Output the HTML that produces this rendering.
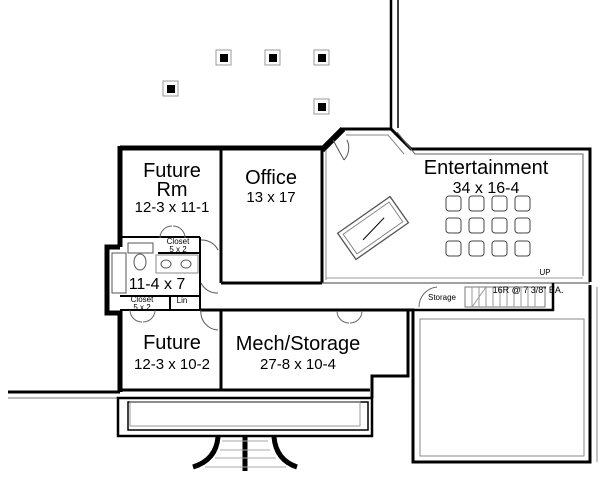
<!DOCTYPE html>
<html><head><style>body{margin:0;background:#fff}svg{display:block}text{font-family:"Liberation Sans",sans-serif;fill:#000;text-anchor:middle}</style></head>
<body>
<svg width="600" height="504" viewBox="0 0 600 504" xmlns="http://www.w3.org/2000/svg">
<g fill="#fff" stroke="#999" stroke-width="1">
<rect x="216" y="50" width="15" height="15"/><rect x="265" y="50" width="15" height="15"/><rect x="314" y="50" width="15" height="15"/><rect x="163" y="81" width="15" height="15"/><rect x="314" y="99" width="15" height="15"/>
</g>
<g fill="#000"><rect x="220" y="54" width="8" height="8"/><rect x="269" y="54" width="8" height="8"/><rect x="318" y="54" width="8" height="8"/><rect x="167" y="85" width="8" height="8"/><rect x="318" y="103" width="8" height="8"/></g>
<g stroke="#000" fill="none">
<line x1="391" y1="0" x2="391" y2="130" stroke-width="2.5"/>
<line x1="398" y1="0" x2="398" y2="128" stroke-width="1.5"/>
<polyline points="120,148 322,148" stroke-width="5"/>
<polyline points="322,150 343,129 391,129 411,149 590,149 590,282" stroke-width="3"/>
<polyline points="322,150 343,129" stroke-width="6"/>
<polyline points="397,132 415,154 583,154 583,276" stroke-width="1" stroke="#666"/>
<polyline points="346,135 388,135 404,154" stroke-width="1" stroke="#888"/>
<line x1="120" y1="146" x2="120" y2="247" stroke-width="5"/>
<polyline points="120,247 107,247 107,313 120,313" stroke-width="5"/>
<line x1="120" y1="311" x2="120" y2="392" stroke-width="5"/>
<line x1="8" y1="392" x2="120" y2="392" stroke-width="3"/>
<line x1="8" y1="398" x2="118" y2="398" stroke-width="1" stroke="#777"/>
<line x1="120" y1="390" x2="370" y2="390" stroke-width="3"/>
<line x1="221" y1="148" x2="221" y2="283" stroke-width="3"/>
<line x1="322" y1="148" x2="322" y2="283" stroke-width="3"/>
<line x1="326" y1="150" x2="326" y2="280" stroke-width="1" stroke="#888"/>
<line x1="221" y1="283" x2="322" y2="283" stroke-width="3"/>
<line x1="322" y1="283" x2="590" y2="283" stroke-width="1.2" stroke="#666"/>
<line x1="326" y1="278" x2="583" y2="278" stroke-width="1" stroke="#999"/>
<polyline points="200,310 408,310 408,376 372,376 372,398" stroke-width="3"/>
<line x1="221" y1="310" x2="221" y2="390" stroke-width="3"/>
<line x1="120" y1="237" x2="200" y2="237" stroke-width="2"/>
<line x1="158" y1="253" x2="200" y2="253" stroke-width="2"/>
<line x1="200" y1="237" x2="200" y2="310" stroke-width="2"/>
<line x1="120" y1="296" x2="200" y2="296" stroke-width="2"/>
<line x1="170" y1="296" x2="170" y2="310" stroke-width="2"/>
<line x1="120" y1="310" x2="200" y2="310" stroke-width="2"/>
<rect x="112" y="253" width="14" height="40" stroke-width="1" stroke="#555"/>
<rect x="128" y="243" width="25" height="10" stroke-width="1" stroke="#555"/>
<ellipse cx="140" cy="262" rx="6" ry="8" stroke-width="1" stroke="#555"/>
<rect x="156" y="255" width="42" height="18" stroke-width="1" stroke="#888"/>
<ellipse cx="166" cy="264" rx="5" ry="4" stroke-width="1" stroke="#555"/>
<ellipse cx="186" cy="264" rx="5" ry="4" stroke-width="1" stroke="#555"/>
<path d="M201,240 A18,18 0 0 1 218,250 M201,283 A18,18 0 0 0 218,293 M201,310 A18,18 0 0 0 218,330" stroke-width="1" stroke="#555"/>
<path d="M160,238 A12,12 0 0 1 172,226 M185,238 A12,12 0 0 0 173,226 M130,310 A12,12 0 0 0 142,322 M155,310 A12,12 0 0 1 143,322" stroke-width="1" stroke="#666"/>
<path d="M337,311 A12,12 0 0 0 349,323 M362,311 A12,12 0 0 1 350,323" stroke-width="1" stroke="#666"/>
<path d="M333,140 L344,160 M344,160 A18,18 0 0 0 347,140" stroke-width="1" stroke="#555"/>
<rect x="118" y="398" width="254" height="38" stroke-width="2.5"/>
<rect x="128" y="402" width="240" height="28" stroke-width="1.5"/>
<rect x="130" y="402" width="230" height="24" stroke-width="1" stroke="#999"/>
<path d="M218,437 Q216,460 193,467 M274,437 Q276,460 297,467" stroke-width="5"/>
<line x1="245" y1="437" x2="245" y2="471" stroke-width="5"/>
<g stroke="#aaa" stroke-width="1"><line x1="222" y1="441" x2="268" y2="441"/><line x1="220" y1="450" x2="270" y2="450"/><line x1="215" y1="458" x2="276" y2="458"/><line x1="205" y1="467" x2="286" y2="467"/></g>
<polyline points="408,310 413,310 413,462 590,462 590,285" stroke-width="3"/>
<polyline points="553,283 553,310 413,310" stroke-width="2.5"/>
<rect x="420" y="319" width="164" height="137" stroke-width="1" stroke="#888"/>
<line x1="597" y1="287" x2="597" y2="462" stroke-width="1" stroke="#888"/>
<rect x="465" y="287" width="80" height="20" stroke-width="1" stroke="#777"/>
<g stroke="#999" stroke-width="1"><line x1="472" y1="287" x2="472" y2="307"/><line x1="479" y1="287" x2="479" y2="307"/><line x1="486" y1="287" x2="486" y2="307"/><line x1="493" y1="287" x2="493" y2="307"/><line x1="500" y1="287" x2="500" y2="307"/><line x1="507" y1="287" x2="507" y2="307"/><line x1="514" y1="287" x2="514" y2="307"/><line x1="521" y1="287" x2="521" y2="307"/><line x1="528" y1="287" x2="528" y2="307"/><line x1="535" y1="287" x2="535" y2="307"/><line x1="472" y1="307" x2="486" y2="287"/></g>
<path d="M419,307 A20,20 0 0 1 437,287" stroke-width="1" stroke="#666"/>
<g transform="translate(373,228) rotate(-35)"><rect x="-32" y="-16" width="64" height="32" stroke-width="1.3" stroke="#555"/><rect x="-28" y="-12" width="56" height="24" stroke-width="1" stroke="#888"/><line x1="-15" y1="4" x2="15" y2="-2" stroke-width="1"/></g>
</g>
<g fill="#fff" stroke="#444" stroke-width="1">
<rect x="446" y="196" width="15" height="15" rx="3"/><rect x="469" y="196" width="15" height="15" rx="3"/><rect x="492" y="196" width="15" height="15" rx="3"/><rect x="515" y="196" width="15" height="15" rx="3"/>
<rect x="446" y="218" width="15" height="15" rx="3"/><rect x="469" y="218" width="15" height="15" rx="3"/><rect x="492" y="218" width="15" height="15" rx="3"/><rect x="515" y="218" width="15" height="15" rx="3"/>
<rect x="446" y="241" width="15" height="15" rx="3"/><rect x="469" y="241" width="15" height="15" rx="3"/><rect x="492" y="241" width="15" height="15" rx="3"/><rect x="515" y="241" width="15" height="15" rx="3"/>
</g>
<text x="172" y="177" font-size="20">Future</text>
<text x="172" y="196" font-size="20">Rm</text>
<text x="172" y="212" font-size="15">12-3 x 11-1</text>
<text x="271" y="184" font-size="20">Office</text>
<text x="271" y="202" font-size="15">13 x 17</text>
<text x="486" y="174" font-size="20">Entertainment</text>
<text x="486" y="193" font-size="16">34 x 16-4</text>
<text x="298" y="350" font-size="20">Mech/Storage</text>
<text x="298" y="369" font-size="15">27-8 x 10-4</text>
<text x="172" y="349" font-size="20">Future</text>
<text x="172" y="369" font-size="15">12-3 x 10-2</text>
<text x="157" y="289" font-size="16">11-4 x 7</text>
<text x="178" y="244" font-size="8">Closet</text><text x="178" y="252" font-size="8">5 x 2</text>
<text x="142" y="302" font-size="8">Closet</text><text x="142" y="310" font-size="8">5 x 2</text>
<text x="182" y="303" font-size="8">Lin</text>
<text x="442" y="300" font-size="8">Storage</text>
<text x="545" y="275" font-size="8">UP</text>
<text x="528" y="293" font-size="9">16R @ 7 3/8" EA.</text>
</svg>
</body></html>
